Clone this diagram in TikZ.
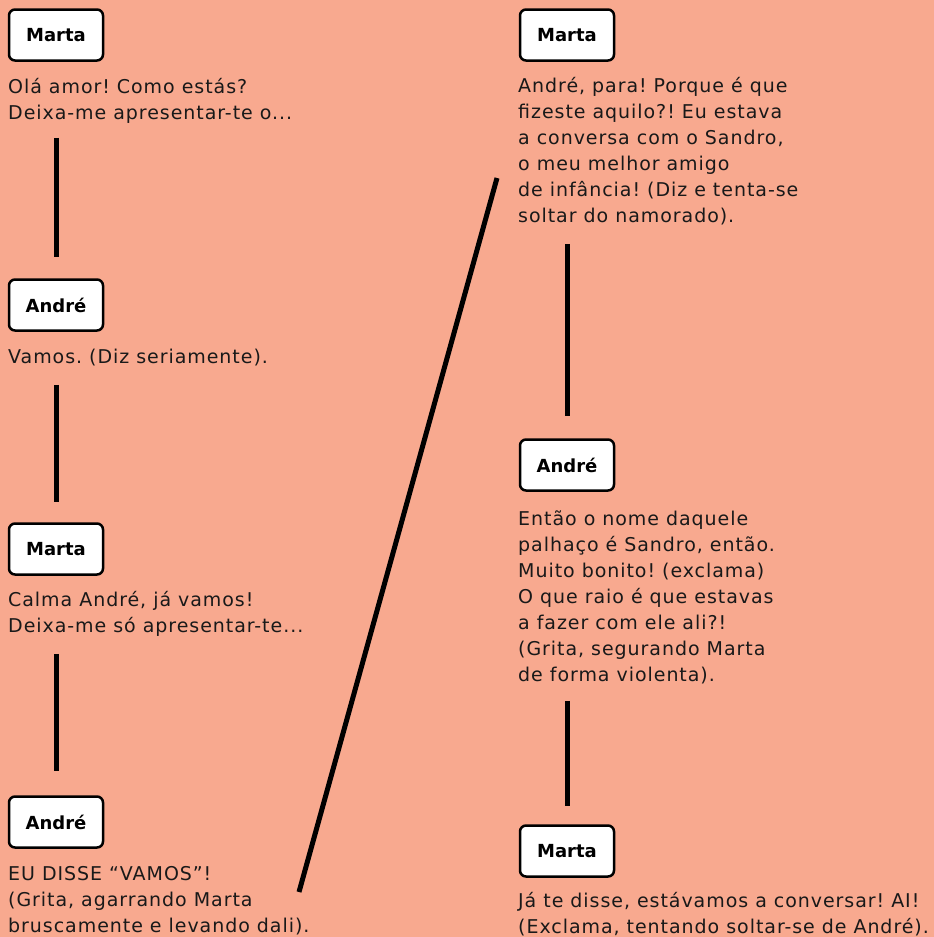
\documentclass[tikz,border=0pt]{standalone}
\usepackage{fontspec}
\setmainfont{DejaVu Sans}[LetterSpace=5]
\newfontfamily\namefont{DejaVu Sans}
\definecolor{salmon}{RGB}{248,169,143}

\begin{document}
\frenchspacing
\begin{tikzpicture}[x=1pt,y=-1pt,
    who/.style={draw, line width=2.5pt, rounded corners=6pt, fill=white,
        minimum width=94pt, minimum height=51pt, inner sep=0pt,
        font=\namefont\bfseries\fontsize{18}{20}\selectfont},
    speech/.style={anchor=base west, align=left, inner sep=0pt, text=black!90,
        font=\fontsize{19}{26}\selectfont},
    link/.style={line width=5pt}]
    \fill[salmon] (0,0) rectangle (934,937);
    \useasboundingbox (0,0) rectangle (934,937);

    % Left column (speech nodes sit on their last baseline)
    \node[who] (m1) at (56,35) {Marta};
    \node[speech] (s1) at (8,119) {Olá amor! Como estás?\\Deixa-me apresentar-te o...};
    \node[who] (a1) at (56,305) {André};
    \node[speech] (s2) at (8,363) {Vamos. (Diz seriamente).};
    \node[who] (m2) at (56,549) {Marta};
    \node[speech] (s3) at (8,632) {Calma André, já vamos!\\Deixa-me só apresentar-te...};
    \node[who] (a2) at (56,822) {André};
    \node[speech] (s4) at (8,932) {EU DISSE “VAMOS”!\\(Grita, agarrando Marta\\bruscamente e levando dali).};

    % Right column
    \node[who] (m3) at (567,35) {Marta};
    \node[speech] (s5) at (518,222) {André, para! Porque é que\\fizeste aquilo?! Eu estava\\a conversa com o Sandro,\\o meu melhor amigo\\de infância! (Diz e tenta-se\\soltar do namorado).};
    \node[who] (a3) at (567,465) {André};
    \node[speech] (s6) at (518,681) {Então o nome daquele\\palhaço é Sandro, então.\\Muito bonito! (exclama)\\O que raio é que estavas\\a fazer com ele ali?!\\(Grita, segurando Marta\\de forma violenta).};
    \node[who] (m4) at (567,851) {Marta};
    \node[speech] (s7) at (518,933) {Já te disse, estávamos a conversar! AI!\\(Exclama, tentando soltar-se de André).};

    % Links
    \draw[link, shorten <=76pt, shorten >=21pt] (m1) -- (a1);
    \draw[link, shorten <=53pt, shorten >=20pt] (a1) -- (m2);
    \draw[link, shorten <=78pt, shorten >=24pt] (m2) -- (a2);
    \draw[link, shorten <=182pt, shorten >=22pt] (m3) -- (a3);
    \draw[link, shorten <=209pt, shorten >=18pt] (a3) -- (m4);

    % Jump to the second column
    \coordinate (d1) at (299,892);
    \coordinate (d2) at (497,178);
    \draw[link] (d1) -- (d2);
\end{tikzpicture}
\end{document}
